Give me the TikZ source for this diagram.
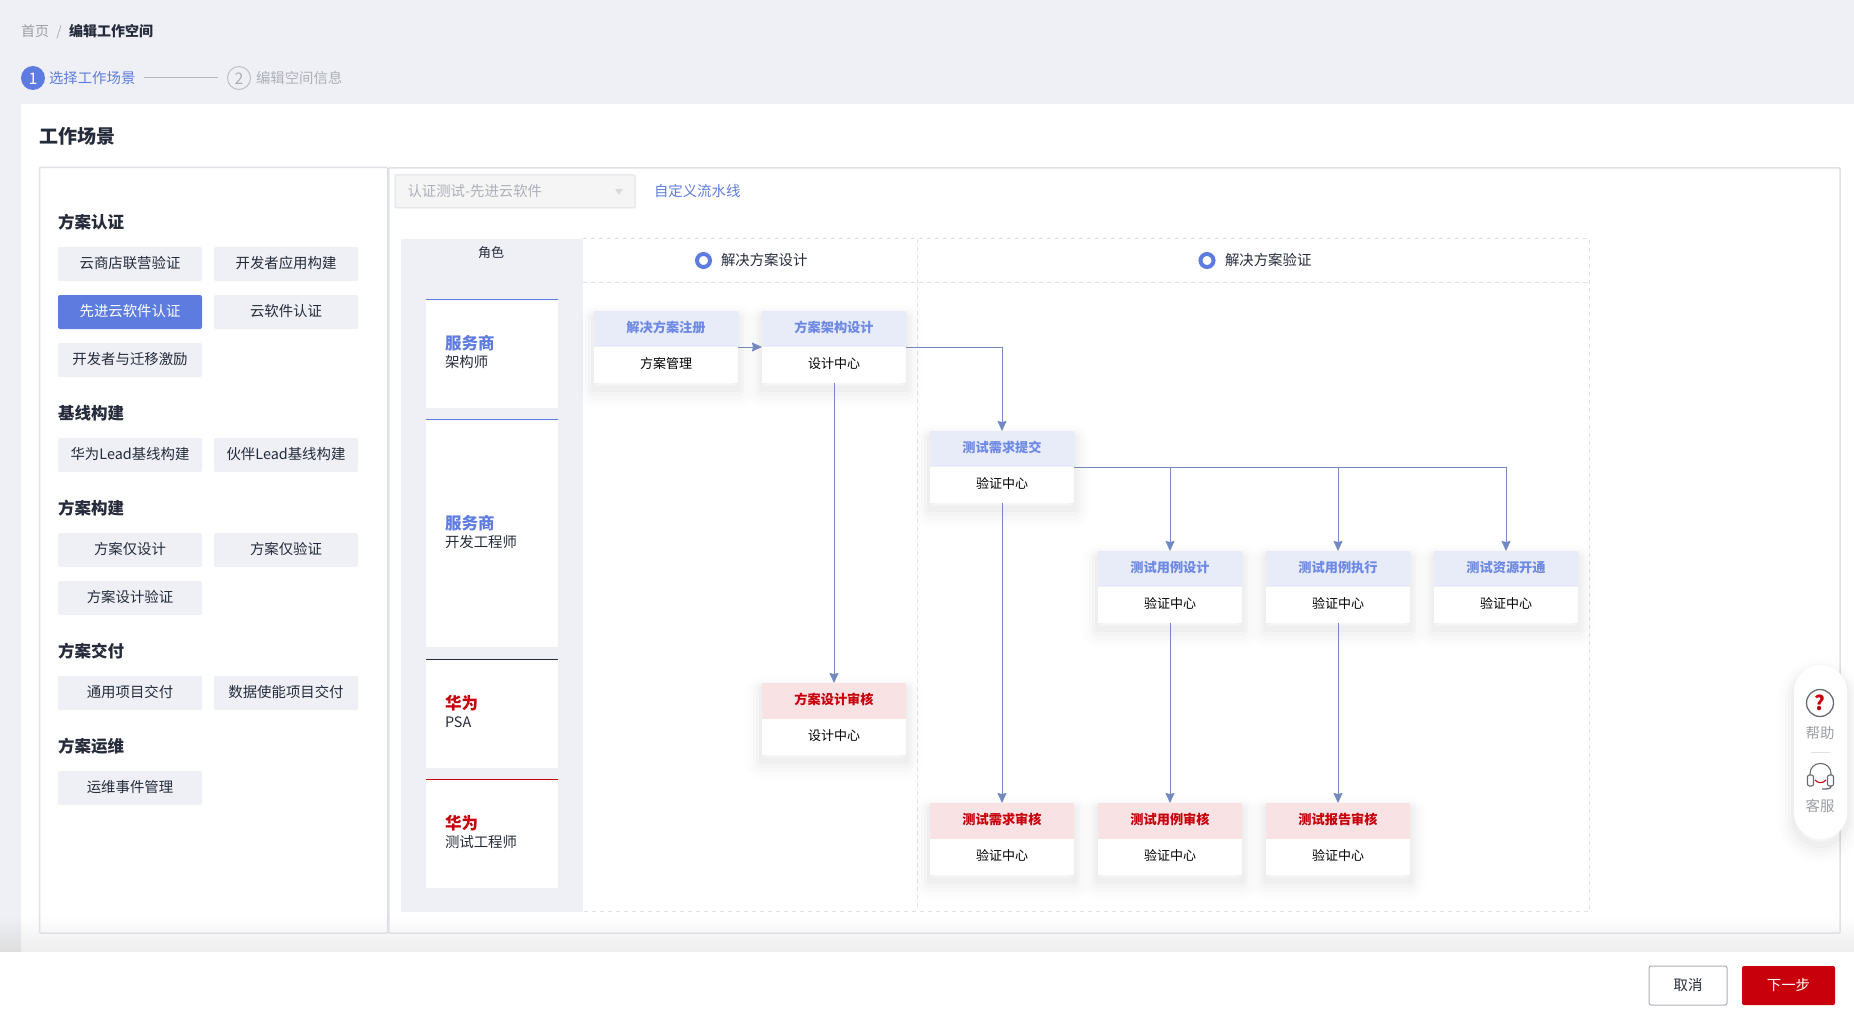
\documentclass[tikz,border=0pt]{standalone}
\usepackage{fontspec}
\setmainfont{Noto Sans CJK SC}
\usetikzlibrary{arrows.meta,shapes.geometric}
\definecolor{pagebg}{HTML}{EEF0F5}
\definecolor{inkdark}{HTML}{252B3A}
\definecolor{inkgray}{HTML}{ADB0B8}
\definecolor{brandblue}{HTML}{5E7CE0}
\definecolor{brandred}{HTML}{C7000B}
\definecolor{linegray}{HTML}{DFE1E6}
\definecolor{flowline}{HTML}{7389BF}
\definecolor{headblue}{HTML}{E8ECF9}
\definecolor{headred}{HTML}{F9E2E4}
\tikzset{
	fs/.style={font=\fontsize{#1}{#1}\selectfont,inner sep=0pt,outer sep=0pt,text height={.88*#1},text depth={.12*#1}},
	fsb/.style={font=\fontsize{#1}{#1}\selectfont\bfseries,inner sep=0pt,outer sep=0pt,text height={.88*#1},text depth={.12*#1}},
	sbtn/.style={fs=14.4,text height=11.5pt,text depth=2.9pt,fill=pagebg,text=inkdark,rounded corners=2pt,minimum width=144pt,minimum height=34pt},
	grouptitle/.style={fsb=16.5,text=inkdark,anchor=west},
	rolehead/.style={fsb=16.5,anchor=west},
	rolename/.style={fs=14.4,text=inkdark,anchor=west},
	roletop/.style={line width=1pt},
	softshadow/.style={
		preaction={draw=black,draw opacity=.006,line width=30pt,line join=round,transform canvas={yshift=-9pt}},
		preaction={draw=black,draw opacity=.008,line width=24pt,line join=round,transform canvas={yshift=-9pt}},
		preaction={draw=black,draw opacity=.011,line width=18pt,line join=round,transform canvas={yshift=-8pt}},
		preaction={draw=black,draw opacity=.014,line width=12pt,line join=round,transform canvas={yshift=-7pt}},
		preaction={draw=black,draw opacity=.018,line width=6pt,line join=round,transform canvas={yshift=-6pt}}},
	cardbox/.style={fill=white,softshadow,minimum width=144pt,minimum height=72pt,inner sep=0pt,outer sep=0pt},
	bluehead/.style={fill=headblue,text=brandblue!90!white},
	redhead/.style={fill=headred,text=brandred},
	flow/.style={draw=flowline,line width=1pt,-{Stealth[length=10pt,width=9pt,inset=1pt]}},
	zone/.style={draw=linegray,line width=1pt,dash pattern=on 4pt off 4pt},
	radio/.style={circle,draw=brandblue,line width=4pt,fill=white,minimum size=13pt,inner sep=0pt},
	panel/.style={draw=linegray,line width=1.5pt,rounded corners=1pt},
	sidelabel/.style={fs=14.4,text=inkgray!90!black}
}
% card: name, centre x, top y, head style, title, centre name
\newcommand{\card}[6]{
	\node (#1) [cardbox] at (#2,#3+36) {};
	\node (#1head) [#4,fsb=13.2,text height=10.6pt,text depth=3.2pt,minimum width=144pt,minimum height=36pt,anchor=north] at (#1.north) {#5};
	\node (#1sub) [fs=13,text=black] at (#2,#3+52.5) {#6};
}
\begin{document}
\begin{tikzpicture}[x=1pt,y=-1pt]
	\useasboundingbox (0,0) rectangle (1854,1016);
	% page
	\fill [pagebg](0,0) rectangle (1854,1016);
	\fill [white](21,104.5) rectangle (1854,952);
	\shade [top color=white,bottom color=black!7](21,915) rectangle (1854,952);
	\shade [top color=pagebg,bottom color=black!13](0,915) rectangle (21,952);
	\fill [white](0,952) rectangle (1854,1016);

	% breadcrumb and steps
	\node (crumbhome) [fs=14,text=inkgray!90!black,anchor=west] at (21,31) {首页};
	\node (crumbsep) [fs=14,text=inkgray] at (59,31) {/};
	\node (crumbedit) [fsb=14,text=inkdark,anchor=west] at (69,31) {编辑工作空间};
	\node (stepone) [circle,fill=brandblue,text=white,fs=16,minimum size=24pt] at (33,78) {1};
	\node (steponetext) [fs=14.4,text=brandblue,anchor=west] at (49,78) {选择工作场景};
	\node (steptwo) [circle,draw=inkgray!80,line width=1pt,text=inkgray,fs=16,minimum size=23pt] at (239,78) {2};
	\node (steptwotext) [fs=14.4,text=inkgray,anchor=west] at (256,78) {编辑空间信息};
	\draw [inkgray!90,line width=1pt](steponetext.east) ++(9,0)--([xshift=-10pt]steptwo.west);
	\node (pagetitle) [fsb=19,text=inkdark,anchor=west] at (39,136.5) {工作场景};

	% panels
	\draw [panel](39.5,167.5) rectangle (387.5,933);
	\draw [panel](388.8,168) rectangle (1840,933);

	% left list
	\node (authtitle) [grouptitle] at (58,222.5) {方案认证};
	\node (authone) [sbtn] at (130,264) {云商店联营验证};
	\node (authtwo) [sbtn] at (286,264) {开发者应用构建};
	\node (auththree) [sbtn,fill=brandblue,text=white] at (130,312) {先进云软件认证};
	\node (authfour) [sbtn] at (286,312) {云软件认证};
	\node (authfive) [sbtn] at (130,360) {开发者与迁移激励};
	\node (basetitle) [grouptitle] at (58,413.5) {基线构建};
	\node (baseone) [sbtn] at (130,455) {华为Lead基线构建};
	\node (basetwo) [sbtn] at (286,455) {伙伴Lead基线构建};
	\node (buildtitle) [grouptitle] at (58,508.5) {方案构建};
	\node (buildone) [sbtn] at (130,550) {方案仅设计};
	\node (buildtwo) [sbtn] at (286,550) {方案仅验证};
	\node (buildthree) [sbtn] at (130,598) {方案设计验证};
	\node (delivertitle) [grouptitle] at (58,651.5) {方案交付};
	\node (deliverone) [sbtn] at (130,693) {通用项目交付};
	\node (delivertwo) [sbtn] at (286,693) {数据使能项目交付};
	\node (opstitle) [grouptitle] at (58,746.5) {方案运维};
	\node (opsone) [sbtn] at (130,788) {运维事件管理};

	% select row
	\draw [linegray,fill=black!4,line width=1pt,rounded corners=1pt](395,175) rectangle (635,208);
	\node (selecttext) [fs=14.4,text=inkgray,anchor=west] at (407.5,191) {认证测试-先进云软件};
	\node (selectarrow) [isosceles triangle,shape border rotate=-90,fill=black!15,inner sep=0pt,minimum width=8pt,minimum height=6pt,isosceles triangle stretches] at (619,191) {};
	\node (customlink) [fs=14.4,text=brandblue,anchor=west] at (654,191) {自定义流水线};

	% role column
	\fill [pagebg](401,239) rectangle (582.5,912);
	\node (roletitle) [fs=13,text=inkdark] at (491,253) {角色};
	\fill [white](426,299.5) rectangle (558,408);
	\fill [white](426,419) rectangle (558,647);
	\fill [white](426,659) rectangle (558,768);
	\fill [white](426,779) rectangle (558,888);
	\draw [roletop,brandblue](426,299.5)--(558,299.5);
	\draw [roletop,brandblue](426,419)--(558,419);
	\draw [roletop,inkdark](426,659)--(558,659);
	\draw [roletop,brandred](426,779)--(558,779);
	\node (archrole) [rolehead,text=brandblue] at (445,343.5) {服务商};
	\node (archname) [rolename] at (445,362) {架构师};
	\node (devrole) [rolehead,text=brandblue] at (445,523.5) {服务商};
	\node (devname) [rolename] at (445,542) {开发工程师};
	\node (psarole) [rolehead,text=brandred] at (445,703.5) {华为};
	\node (psaname) [rolename] at (445,722) {PSA};
	\node (testrole) [rolehead,text=brandred] at (445,823.5) {华为};
	\node (testname) [rolename] at (445,842) {测试工程师};

	% stage zones
	\draw [zone](582.5,239)--(1589,239)--(1589,911)--(582.5,911);
	\draw [zone](582.5,282.5)--(1589,282.5);
	\draw [zone](917,239)--(917,911);
	\node (designradio) [radio] at (703.5,260.5) {};
	\node (designstage) [fs=14.4,text=inkdark,anchor=west] at (721,260) {解决方案设计};
	\node (verifyradio) [radio] at (1207,260.5) {};
	\node (verifystage) [fs=14.4,text=inkdark,anchor=west] at (1225,260) {解决方案验证};

	% cards
	\card{reg}{666}{311}{bluehead}{解决方案注册}{方案管理}
	\card{arch}{834}{311}{bluehead}{方案架构设计}{设计中心}
	\card{req}{1002}{431}{bluehead}{测试需求提交}{验证中心}
	\card{casedes}{1170}{551}{bluehead}{测试用例设计}{验证中心}
	\card{caserun}{1338}{551}{bluehead}{测试用例执行}{验证中心}
	\card{envopen}{1506}{551}{bluehead}{测试资源开通}{验证中心}
	\card{archchk}{834}{683}{redhead}{方案设计审核}{设计中心}
	\card{reqchk}{1002}{803}{redhead}{测试需求审核}{验证中心}
	\card{casechk}{1170}{803}{redhead}{测试用例审核}{验证中心}
	\card{repchk}{1338}{803}{redhead}{测试报告审核}{验证中心}

	\draw [flow](reg.east)--(arch.west);
	\draw [flow](arch.east)-|(req.north);
	\draw [flow](arch.south)--(archchk.north);
	\draw [flow](req.east)-|(casedes.north);
	\draw [flow](req.east)-|(caserun.north);
	\draw [flow](req.east)-|(envopen.north);
	\draw [flow](req.south)--(reqchk.north);
	\draw [flow](casedes.south)--(casechk.north);
	\draw [flow](caserun.south)--(repchk.north);

	% side pill
	\node (sidepill) [fill=white,rounded corners=26.5pt,minimum width=53pt,minimum height=174pt,inner sep=0pt,softshadow] at (1820.5,752) {};
	\node (helpicon) [circle,draw=inkdark!70,line width=1.3pt,minimum size=27pt,inner sep=0pt,fsb=20,text=brandred] at (1820,703) {?};
	\node (helplabel) [sidelabel] at (1820,733) {帮助};
	\draw [linegray,line width=1pt](1811,752)--(1830,752);
	\draw [inkdark!70,line width=1.1pt,rounded corners=10pt](1810,776)--(1810,763.5)--(1831,763.5)--(1831,776);
	\draw [inkdark!70,line width=1.1pt,rounded corners=2pt,fill=white](1807.5,775) rectangle (1813.5,786);
	\draw [inkdark!70,line width=1.1pt,rounded corners=2pt,fill=white](1827.5,775) rectangle (1833.5,786);
	\draw [brandred,line width=1.1pt](1815,780) .. controls (1818,783.5) and (1823,783.5) .. (1826,780);
	\draw [inkdark!70,line width=1.3pt](1831,786) .. controls (1831,789) and (1828,789) .. (1822,789);
	\node (servicelabel) [sidelabel] at (1820,806) {客服};

	% footer
	\node (cancelbtn) [draw=inkgray,line width=1pt,rounded corners=2pt,fill=white,fs=14.4,text=inkdark,minimum width=78pt,minimum height=39pt] at (1688,985.5) {取消};
	\node (nextbtn) [fill=brandred,rounded corners=2pt,fs=14.4,text=white,minimum width=93pt,minimum height=39pt] at (1788.5,985.5) {下一步};
\end{tikzpicture}
\end{document}
